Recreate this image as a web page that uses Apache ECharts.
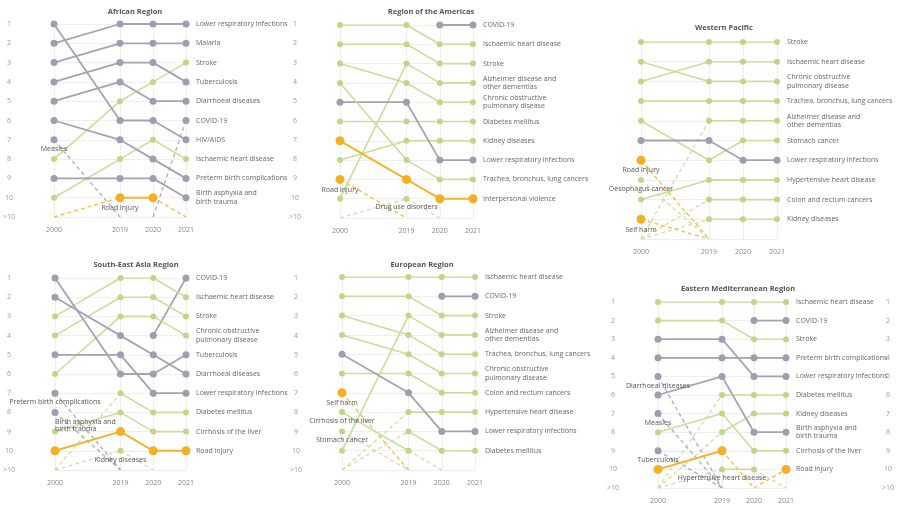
<!DOCTYPE html>
<html><head><meta charset="utf-8">
<script src="https://cdn.jsdelivr.net/npm/echarts@6/dist/echarts.min.js"></script>
<style>html,body{margin:0;padding:0;background:#fff}#c{width:900px;height:506px}</style>
</head><body><div id="c"></div>
<script>
// ---------- DATA ----------
const years = ['2000', '2019', '2020', '2021'];
const xSlots = ['2000', '', '2019', '2020', '2021'];
const rankLabels = ['1','2','3','4','5','6','7','8','9','10','>10'];
// rank 11 = ">10", null = not ranked / not existing
// groups: c = communicable, n = noncommunicable, i = injuries

const afTitle = 'African Region';
const afCauses = ['Lower respiratory infections','Malaria','Stroke','Tuberculosis','Diarrhoeal diseases','COVID-19','HIV/AIDS','Ischaemic heart disease','Preterm birth complications','Birth asphyxia and birth trauma','Measles','Road injury'];
const afGroups = ['c','c','n','c','c','c','c','n','c','c','c','i'];
const afRanks = [[2,1,1,1],[3,2,2,2],[8,5,4,3],[4,3,3,4],[5,4,5,5],[null,null,11,6],[1,6,6,7],[10,8,7,8],[6,7,8,9],[9,9,9,10],[7,11,11,11],[11,10,10,11]];

const amTitle = 'Region of the Americas';
const amCauses = ['COVID-19','Ischaemic heart disease','Stroke','Alzheimer disease and other dementias','Chronic obstructive pulmonary disease','Diabetes mellitus','Kidney diseases','Lower respiratory infections','Trachea, bronchus, lung cancers','Interpersonal violence','Road injury','Drug use disorders'];
const amGroups = ['c','n','n','n','n','n','n','c','n','i','i','n'];
const amRanks = [[null,null,1,1],[1,1,2,2],[2,2,3,3],[10,3,4,4],[3,4,5,5],[6,6,6,6],[8,7,7,7],[5,5,8,8],[4,8,9,9],[7,9,10,10],[9,11,11,11],[11,10,11,11]];

const wpTitle = 'Western Pacific';
const wpCauses = ['Stroke','Ischaemic heart disease','Chronic obstructive pulmonary disease','Trachea, bronchus, lung cancers','Alzheimer disease and other dementias','Stomach cancer','Lower respiratory infections','Hypertensive heart disease','Colon and rectum cancers','Kidney diseases','Road injury','Oesophagus cancer','Self harm'];
const wpGroups = ['n','n','n','n','n','n','c','n','n','n','i','n','i'];
const wpRanks = [[1,1,1,1],[3,2,2,2],[2,3,3,3],[4,4,4,4],[11,5,5,5],[5,7,6,6],[6,6,7,7],[9,8,8,8],[11,9,9,9],[11,10,10,10],[7,11,11,11],[8,11,11,11],[10,11,11,11]];

const seTitle = 'South-East Asia Region';
const seCauses = ['COVID-19','Ischaemic heart disease','Stroke','Chronic obstructive pulmonary disease','Tuberculosis','Diarrhoeal diseases','Lower respiratory infections','Diabetes mellitus','Cirrhosis of the liver','Road injury','Preterm birth complications','Birth asphyxia and birth trauma','Kidney diseases'];
const seGroups = ['c','n','n','n','c','c','c','n','n','i','c','c','n'];
const seRanks = [[null,null,4,1],[3,1,1,2],[4,2,2,3],[6,3,3,4],[1,6,6,5],[2,4,5,6],[5,5,7,7],[11,7,8,8],[9,8,9,9],[10,9,10,10],[7,11,11,11],[8,11,11,11],[11,10,11,11]];

const euTitle = 'European Region';
const euCauses = ['Ischaemic heart disease','COVID-19','Stroke','Alzheimer disease and other dementias','Trachea, bronchus, lung cancers','Chronic obstructive pulmonary disease','Colon and rectum cancers','Hypertensive heart disease','Lower respiratory infections','Diabetes mellitus','Self harm','Cirrhosis of the liver','Stomach cancer'];
const euGroups = ['n','c','n','n','n','n','n','n','c','n','i','n','n'];
const euRanks = [[1,1,1,1],[null,null,2,2],[2,2,3,3],[10,3,4,4],[3,4,5,5],[4,5,6,6],[6,6,7,7],[11,8,8,8],[5,7,9,9],[11,9,10,10],[7,11,11,11],[8,10,11,11],[9,11,11,11]];

const emTitle = 'Eastern Mediterranean Region';
const emCauses = ['Ischaemic heart disease','COVID-19','Stroke','Preterm birth complications','Lower respiratory infections','Diabetes mellitus','Kidney diseases','Birth asphyxia and birth trauma','Cirrhosis of the liver','Road injury','Diarrhoeal diseases','Measles','Tuberculosis','Hypertensive heart disease'];
const emGroups = ['n','c','n','c','c','n','n','c','n','i','c','c','c','n'];
const emRanks = [[1,1,1,1],[null,null,2,2],[2,2,3,3],[4,4,4,4],[3,3,5,5],[11,6,6,6],[11,8,7,7],[6,5,8,8],[8,7,9,9],[10,9,11,10],[5,11,11,11],[7,11,11,11],[9,11,11,11],[11,10,10,11]];

// ---------- LAYOUT / STYLE ----------
const FONT = '"Open Sans", "DejaVu Sans", sans-serif';
const panels = [
  {title: afTitle, causes: afCauses, groups: afGroups, ranks: afRanks, grid:{left:52,top:24,width:134,height:193}, tpos:[130,3], left:45, right:109},
  {title: amTitle, causes: amCauses, groups: amGroups, ranks: amRanks, grid:{left:340,top:25,width:133,height:193}, tpos:[426,3]},
  {title: wpTitle, causes: wpCauses, groups: wpGroups, ranks: wpRanks, grid:{left:641,top:42,width:136,height:197}, tpos:[719,19]},
  {title: seTitle, causes: seCauses, groups: seGroups, ranks: seRanks, grid:{left:53,top:278,width:133,height:192}, tpos:[131,256], left:46, right:110},
  {title: euTitle, causes: euCauses, groups: euGroups, ranks: euRanks, grid:{left:342,top:277,width:133,height:193}, tpos:[417,256]},
  {title: emTitle, causes: emCauses, groups: emGroups, ranks: emRanks, grid:{left:658,top:302,width:128,height:186}, tpos:[733,280], left:45, right:102}
];
const LINE_COL = {c:'#a3a4b2', n:'#cadd9c', i:'#f4b32c'};
const DOT_COL = {c:'#9d9eae', n:'#bfd689', i:'#f3b024'};
const DOT_SIZE = {c:7, n:6, i:9};
const LINE_W = {c:1.8, n:1.6, i:2};
const WRAP = {
  'Birth asphyxia and birth trauma':'Birth asphyxia and\nbirth trauma',
  'Alzheimer disease and other dementias':'Alzheimer disease and\nother dementias',
  'Chronic obstructive pulmonary disease':'Chronic obstructive\npulmonary disease'
};
const LABEL_TWEAK = {
  '3|Preterm birth complications': {offset:[18,0]},
  '3|Birth asphyxia and birth trauma': {align:'left', offset:[-29,-1]},
  '2|Road injury': {offset:[6,0]},
  '2|Oesophagus cancer': {offset:[7,0]}
};
const SLOT = [0, 2, 3, 4]; // x slot for each year

const grid = [], xAxis = [], yAxis = [], series = [], title = [];
panels.forEach((p, pi) => {
  grid.push(p.grid);
  title.push({text: p.title, left: p.tpos[0], top: p.tpos[1], textAlign: 'center',
    textStyle: {fontFamily: FONT, fontSize: 7.5, fontWeight: 'bold', color: '#555'}});
  xAxis.push({type:'category', gridIndex: pi, data: xSlots, boundaryGap: false,
    axisLine:{show:false}, axisTick:{show:false},
    axisLabel:{fontFamily: FONT, fontSize: 7, color:'#888', margin: 9, interval:(i, v) => v !== ''},
    splitLine:{show:true, interval:(i, v) => v !== '', lineStyle:{color:'#eeeeee', width:1}}});
  const yl = yAxis.length;
  yAxis.push({type:'value', gridIndex: pi, inverse: true, min: 1, max: 11, interval: 1,
    axisLine:{show:false}, axisTick:{show:false},
    splitLine:{show:true, lineStyle:{color:'#eeeeee', width:1}},
    axisLabel:{show: !!p.left, formatter: v => rankLabels[v-1], align:'center', margin: p.left || 8,
      fontFamily: FONT, fontSize: 7, color:'#999'}});
  if (p.right) {
    yAxis.push({type:'value', gridIndex: pi, position:'right', inverse: true, min: 1, max: 11, interval: 1,
      axisLine:{show:false}, axisTick:{show:false}, splitLine:{show:false},
      axisLabel:{formatter: v => rankLabels[v-1], align:'center', margin: p.right,
        fontFamily: FONT, fontSize: 7, color:'#999'}});
  }
  p.causes.forEach((name, ci) => {
    const g = p.groups[ci], r = p.ranks[ci];
    const col = LINE_COL[g];
    // dashed transitions into / out of top 10
    for (let k = 0; k < 3; k++) {
      const a = r[k], b = r[k+1];
      if (a == null || b == null) continue;
      if ((a <= 10) !== (b <= 10)) {
        series.push({type:'line', xAxisIndex: pi, yAxisIndex: yl, silent: true, symbol:'none', z: 1,
          data: [[SLOT[k], a], [SLOT[k+1], b]],
          lineStyle:{color: col, width: 1.4, type:[4,3], opacity: 0.85}});
      }
    }
    // label placement
    let labIdx = -1, side = 'bottom';
    if (r[3] != null && r[3] <= 10) { labIdx = 3; side = 'right'; }
    else { labIdx = r.findIndex(v => v != null && v <= 10); }
    const text = WRAP[name] || name;
    const data = r.map((v, k) => {
      const item = {value: [SLOT[k], (v != null && v <= 10) ? v : '-']};
      if (k === labIdx) {
        if (side === 'right') {
          item.label = {show: true, position: 'right', distance: 10 - DOT_SIZE[g] / 2, formatter: text,
            fontFamily: FONT, fontSize: 7, color: '#666', lineHeight: 8.5,
            offset: text.indexOf('\n') >= 0 ? [0, 4] : [0, 0]};
        } else {
          const tw = LABEL_TWEAK[pi + '|' + name] || {};
          item.label = Object.assign({show: true, position: 'bottom', distance: 2, formatter: text,
            fontFamily: FONT, fontSize: 7, color: '#555', lineHeight: 7.5}, tw);
        }
      }
      return item;
    });
    series.push({type:'line', name: name, xAxisIndex: pi, yAxisIndex: yl, silent: true, z: g === 'i' ? 4 : 3,
      data: data, connectNulls: false, symbol: 'circle', symbolSize: DOT_SIZE[g], showSymbol: true, showAllSymbol: true,
      lineStyle:{color: col, width: LINE_W[g]}, itemStyle:{color: DOT_COL[g]},
      emphasis:{disabled: true}, labelLayout: {hideOverlap: false}});
  });
});

const chart = echarts.init(document.getElementById('c'), null, {renderer: 'canvas'});
chart.setOption({animation: false, backgroundColor: '#ffffff', title, grid, xAxis, yAxis, series, tooltip: {show: false}});
</script>
</body></html>
